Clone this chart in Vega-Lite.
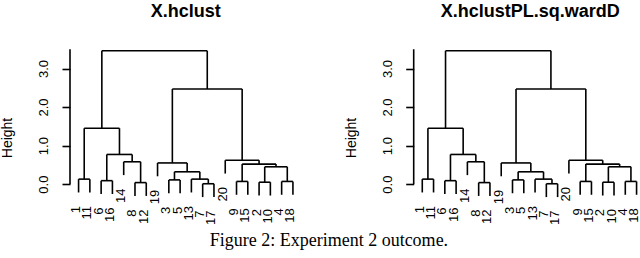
{
  "$schema": "https://vega.github.io/schema/vega-lite/v6.json",
  "padding": {"top": 2, "left": 0, "right": 0, "bottom": 0},
  "background": "white",
  "config": {"view": {"stroke": null}, "font": "Liberation Sans"},
  "datasets": {
    "segs": [
      {"x": 1, "x2": 1, "y": -0.216, "y2": 0.13},
      {"x": 2, "x2": 2, "y": -0.216, "y2": 0.13},
      {"x": 3, "x2": 3, "y": -0.256, "y2": 0.09},
      {"x": 4, "x2": 4, "y": -0.256, "y2": 0.09},
      {"x": 5, "x2": 5, "y": 0.234, "y2": 0.58},
      {"x": 6, "x2": 6, "y": -0.306, "y2": 0.04},
      {"x": 7, "x2": 7, "y": -0.306, "y2": 0.04},
      {"x": 8, "x2": 8, "y": 0.204, "y2": 0.55},
      {"x": 9, "x2": 9, "y": -0.236, "y2": 0.11},
      {"x": 10, "x2": 10, "y": -0.236, "y2": 0.11},
      {"x": 11, "x2": 11, "y": -0.216, "y2": 0.13},
      {"x": 12, "x2": 12, "y": -0.336, "y2": 0.01},
      {"x": 13, "x2": 13, "y": -0.336, "y2": 0.01},
      {"x": 14, "x2": 14, "y": 0.274, "y2": 0.62},
      {"x": 15, "x2": 15, "y": -0.276, "y2": 0.07},
      {"x": 16, "x2": 16, "y": -0.276, "y2": 0.07},
      {"x": 17, "x2": 17, "y": -0.296, "y2": 0.05},
      {"x": 18, "x2": 18, "y": -0.296, "y2": 0.05},
      {"x": 19, "x2": 19, "y": -0.276, "y2": 0.07},
      {"x": 20, "x2": 20, "y": -0.276, "y2": 0.07},
      {"x": 1, "x2": 2, "y": 0.13, "y2": 0.13},
      {"x": 3, "x2": 4, "y": 0.09, "y2": 0.09},
      {"x": 6, "x2": 7, "y": 0.04, "y2": 0.04},
      {"x": 5, "x2": 6.5, "y": 0.58, "y2": 0.58},
      {"x": 3.5, "x2": 5.75, "y": 0.77, "y2": 0.77},
      {"x": 1.5, "x2": 4.625, "y": 1.45, "y2": 1.45},
      {"x": 9, "x2": 10, "y": 0.11, "y2": 0.11},
      {"x": 12, "x2": 13, "y": 0.01, "y2": 0.01},
      {"x": 11, "x2": 12.5, "y": 0.13, "y2": 0.13},
      {"x": 9.5, "x2": 11.75, "y": 0.32, "y2": 0.32},
      {"x": 8, "x2": 10.625, "y": 0.55, "y2": 0.55},
      {"x": 15, "x2": 16, "y": 0.07, "y2": 0.07},
      {"x": 17, "x2": 18, "y": 0.05, "y2": 0.05},
      {"x": 19, "x2": 20, "y": 0.07, "y2": 0.07},
      {"x": 17.5, "x2": 19.5, "y": 0.45, "y2": 0.45},
      {"x": 15.5, "x2": 18.5, "y": 0.52, "y2": 0.52},
      {"x": 14, "x2": 17, "y": 0.62, "y2": 0.62},
      {"x": 9.3125, "x2": 15.5, "y": 2.47, "y2": 2.47},
      {"x": 3.0625, "x2": 12.40625, "y": 3.46, "y2": 3.46},
      {"x": 1.5, "x2": 1.5, "y": 0.13, "y2": 1.45},
      {"x": 3.5, "x2": 3.5, "y": 0.09, "y2": 0.77},
      {"x": 6.5, "x2": 6.5, "y": 0.04, "y2": 0.58},
      {"x": 5.75, "x2": 5.75, "y": 0.58, "y2": 0.77},
      {"x": 4.625, "x2": 4.625, "y": 0.77, "y2": 1.45},
      {"x": 3.0625, "x2": 3.0625, "y": 1.45, "y2": 3.46},
      {"x": 9.5, "x2": 9.5, "y": 0.11, "y2": 0.32},
      {"x": 12.5, "x2": 12.5, "y": 0.01, "y2": 0.13},
      {"x": 11.75, "x2": 11.75, "y": 0.13, "y2": 0.32},
      {"x": 10.625, "x2": 10.625, "y": 0.32, "y2": 0.55},
      {"x": 9.3125, "x2": 9.3125, "y": 0.55, "y2": 2.47},
      {"x": 15.5, "x2": 15.5, "y": 0.07, "y2": 0.52},
      {"x": 17.5, "x2": 17.5, "y": 0.05, "y2": 0.45},
      {"x": 19.5, "x2": 19.5, "y": 0.07, "y2": 0.45},
      {"x": 18.5, "x2": 18.5, "y": 0.45, "y2": 0.52},
      {"x": 17, "x2": 17, "y": 0.52, "y2": 0.62},
      {"x": 15.5, "x2": 15.5, "y": 0.62, "y2": 2.47},
      {"x": 12.40625, "x2": 12.40625, "y": 2.47, "y2": 3.46}
    ],
    "leaves": [
      {"x": 1, "y": -0.216, "label": "1"},
      {"x": 2, "y": -0.216, "label": "11"},
      {"x": 3, "y": -0.256, "label": "6"},
      {"x": 4, "y": -0.256, "label": "16"},
      {"x": 5, "y": 0.234, "label": "14"},
      {"x": 6, "y": -0.306, "label": "8"},
      {"x": 7, "y": -0.306, "label": "12"},
      {"x": 8, "y": 0.204, "label": "19"},
      {"x": 9, "y": -0.236, "label": "3"},
      {"x": 10, "y": -0.236, "label": "5"},
      {"x": 11, "y": -0.216, "label": "13"},
      {"x": 12, "y": -0.336, "label": "7"},
      {"x": 13, "y": -0.336, "label": "17"},
      {"x": 14, "y": 0.274, "label": "20"},
      {"x": 15, "y": -0.276, "label": "9"},
      {"x": 16, "y": -0.276, "label": "15"},
      {"x": 17, "y": -0.296, "label": "2"},
      {"x": 18, "y": -0.296, "label": "10"},
      {"x": 19, "y": -0.276, "label": "4"},
      {"x": 20, "y": -0.276, "label": "18"}
    ]
  },
  "title": {"text": "Figure 2: Experiment 2 outcome.", "orient": "bottom", "anchor": "middle", "font": "Liberation Serif", "fontSize": 18, "fontWeight": "normal", "color": "black", "offset": 2, "dx": 8},
  "spacing": 111.7,
  "bounds": "flush",
  "resolve": {"scale": {"x": "independent", "y": "independent"}},
  "hconcat": [
    {
      "width": 231.5,
      "height": 185,
      "title": {"text": "X.hclust", "font": "Liberation Sans", "fontSize": 18, "fontWeight": "bold", "color": "black", "offset": 24.5},
      "layer": [
        {
          "data": {"name": "segs"},
          "mark": {"type": "rule", "strokeWidth": 1.6, "color": "black"},
          "encoding": {
            "x": {"field": "x", "type": "quantitative", "scale": {"domain": [0.24, 20.76], "nice": false, "zero": false}, "axis": null},
            "x2": {"field": "x2"},
            "y": {"field": "y", "type": "quantitative", "scale": {"domain": [-1.19, 3.61], "nice": false, "zero": false},
              "axis": {"values": [0, 0.5, 1, 1.5, 2, 2.5, 3, 3.5], "labelExpr": "datum.value % 1 === 0 ? format(datum.value, '.1f') : ''", "domain": false, "grid": false, "tickSize": 8, "tickWidth": 1.6, "tickColor": "black", "labelAngle": 270, "labelAlign": "center", "labelBaseline": "alphabetic", "labelPadding": 14.5, "labelFontSize": 13, "labelColor": "black", "labelFont": "Liberation Sans", "labelOverlap": false, "labelFlush": false, "title": "Height", "titleFont": "Liberation Sans", "titleFontSize": 14, "titleFontWeight": "normal", "titleColor": "black", "titleAngle": 270, "titleBaseline": "middle", "titleX": -62.3}},
            "y2": {"field": "y2"}
          }
        },
        {
          "data": {"name": "leaves"},
          "mark": {"type": "text", "angle": 270, "align": "right", "baseline": "middle", "dx": -13.5, "dy": -2.5, "fontSize": 13, "font": "Liberation Sans", "color": "black"},
          "encoding": {
            "x": {"field": "x", "type": "quantitative"},
            "y": {"field": "y", "type": "quantitative"},
            "text": {"field": "label"}
          }
        },
        {
          "data": {"values": [{}]},
          "mark": {"type": "rule", "strokeWidth": 1.6, "color": "black"},
          "encoding": {"x": {"value": 0}, "y": {"datum": 0}, "y2": {"datum": 3.5}}
        }
      ]
    },
    {
      "width": 224,
      "height": 185,
      "title": {"text": "X.hclustPL.sq.wardD", "font": "Liberation Sans", "fontSize": 18, "fontWeight": "bold", "color": "black", "offset": 24.5, "dx": 4.5},
      "layer": [
        {
          "data": {"name": "segs"},
          "mark": {"type": "rule", "strokeWidth": 1.6, "color": "black"},
          "encoding": {
            "x": {"field": "x", "type": "quantitative", "scale": {"domain": [0.24, 20.1], "nice": false, "zero": false}, "axis": null},
            "x2": {"field": "x2"},
            "y": {"field": "y", "type": "quantitative", "scale": {"domain": [-1.19, 3.61], "nice": false, "zero": false},
              "axis": {"values": [0, 0.5, 1, 1.5, 2, 2.5, 3, 3.5], "labelExpr": "datum.value % 1 === 0 ? format(datum.value, '.1f') : ''", "domain": false, "grid": false, "tickSize": 8, "tickWidth": 1.6, "tickColor": "black", "labelAngle": 270, "labelAlign": "center", "labelBaseline": "alphabetic", "labelPadding": 14.5, "labelFontSize": 13, "labelColor": "black", "labelFont": "Liberation Sans", "labelOverlap": false, "labelFlush": false, "title": "Height", "titleFont": "Liberation Sans", "titleFontSize": 14, "titleFontWeight": "normal", "titleColor": "black", "titleAngle": 270, "titleBaseline": "middle", "titleX": -62.3}},
            "y2": {"field": "y2"}
          }
        },
        {
          "data": {"name": "leaves"},
          "mark": {"type": "text", "angle": 270, "align": "right", "baseline": "middle", "dx": -13.5, "dy": -2.5, "fontSize": 13, "font": "Liberation Sans", "color": "black"},
          "encoding": {
            "x": {"field": "x", "type": "quantitative"},
            "y": {"field": "y", "type": "quantitative"},
            "text": {"field": "label"}
          }
        },
        {
          "data": {"values": [{}]},
          "mark": {"type": "rule", "strokeWidth": 1.6, "color": "black"},
          "encoding": {"x": {"value": 0}, "y": {"datum": 0}, "y2": {"datum": 3.5}}
        }
      ]
    }
  ]
}
